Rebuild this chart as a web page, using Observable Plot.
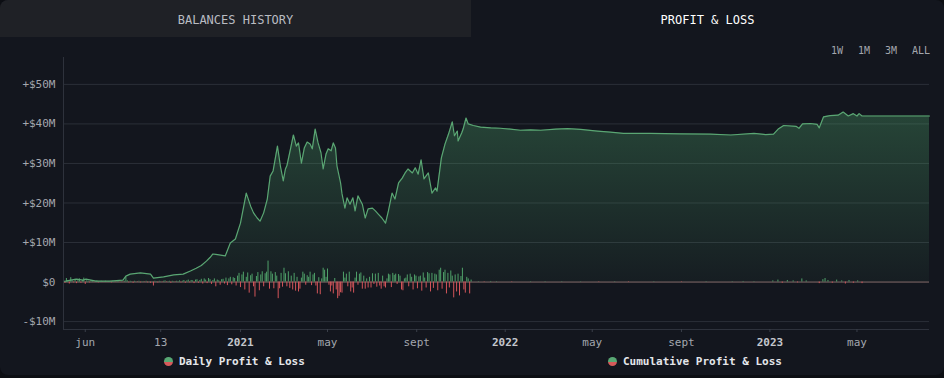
<!DOCTYPE html>
<html><head><meta charset="utf-8">
<script src="https://cdn.jsdelivr.net/npm/d3@7"></script>
<script src="https://cdn.jsdelivr.net/npm/@observablehq/plot@0.6"></script>
<style>
html,body{margin:0;padding:0;background:#0c0e13;width:944px;height:378px;overflow:hidden;font-family:"DejaVu Sans Mono",monospace;}
#card{position:absolute;left:0;top:0;width:944px;height:375px;background:#13161e;border-radius:8px;overflow:hidden;}
.tab{position:absolute;top:0;height:37px;line-height:40px;text-align:center;font-size:12px;}
#tab1{left:0;width:471px;background:#1f2126;color:#b9bcc2;}
#tab2{left:471px;width:473px;color:#ffffff;}
.btn{position:absolute;top:45px;font-size:10px;color:#a3a6ad;}
#chart{position:absolute;left:0;top:37px;}
.leg{position:absolute;top:355px;font-size:11px;font-weight:bold;color:#e4e6ea;white-space:nowrap;line-height:14px;}
.dot{display:inline-block;width:9px;height:9px;border-radius:50%;background:linear-gradient(#58a874 50%,#d65a5a 50%);margin-right:6px;vertical-align:-1px;}
</style></head><body>
<div id="card">
  <div class="tab" id="tab1">BALANCES HISTORY</div>
  <div class="tab" id="tab2">PROFIT &amp; LOSS</div>
  <div class="btn" style="left:831px">1W</div>
  <div class="btn" style="left:858px">1M</div>
  <div class="btn" style="left:885px">3M</div>
  <div class="btn" style="left:912px">ALL</div>
  <div id="chart"></div>
  <div class="leg" style="left:164px"><span class="dot"></span>Daily Profit &amp; Loss</div>
  <div class="leg" style="left:608px"><span class="dot"></span>Cumulative Profit &amp; Loss</div>
</div>
<script>
// Cumulative P&L (millions USD)
const cumDates = ["2020-05-02","2020-05-05","2020-05-12","2020-05-20","2020-05-29","2020-06-02","2020-06-16","2020-07-05","2020-07-23","2020-07-27","2020-08-02","2020-08-16","2020-08-30","2020-09-03","2020-09-17","2020-10-01","2020-10-14","2020-10-24","2020-11-01","2020-11-08","2020-11-15","2020-11-20","2020-11-24","2020-11-28","2020-12-11","2020-12-18","2020-12-25","2021-01-01","2021-01-09","2021-01-15","2021-01-19","2021-01-24","2021-01-28","2021-02-02","2021-02-07","2021-02-11","2021-02-15","2021-02-21","2021-02-25","2021-03-01","2021-03-04","2021-03-06","2021-03-11","2021-03-15","2021-03-19","2021-03-22","2021-03-26","2021-03-30","2021-04-03","2021-04-07","2021-04-10","2021-04-14","2021-04-18","2021-04-22","2021-04-25","2021-04-29","2021-05-02","2021-05-06","2021-05-09","2021-05-12","2021-05-14","2021-05-19","2021-05-21","2021-05-25","2021-05-28","2021-06-01","2021-06-05","2021-06-08","2021-06-12","2021-06-18","2021-06-22","2021-06-26","2021-07-02","2021-07-06","2021-07-10","2021-07-15","2021-07-20","2021-07-24","2021-07-29","2021-08-02","2021-08-07","2021-08-12","2021-08-16","2021-08-20","2021-08-26","2021-08-30","2021-09-03","2021-09-07","2021-09-11","2021-09-17","2021-09-22","2021-09-27","2021-09-29","2021-10-05","2021-10-10","2021-10-15","2021-10-20","2021-10-23","2021-10-27","2021-10-28","2021-11-02","2021-11-04","2021-11-08","2021-11-11","2021-11-18","2021-11-28","2021-12-12","2021-12-25","2022-01-08","2022-01-22","2022-02-05","2022-02-19","2022-03-12","2022-03-28","2022-04-15","2022-05-08","2022-05-26","2022-06-13","2022-07-20","2022-08-30","2022-10-11","2022-11-08","2022-12-10","2022-12-26","2023-01-06","2023-01-13","2023-01-20","2023-02-06","2023-02-10","2023-02-15","2023-02-26","2023-03-07","2023-03-10","2023-03-16","2023-03-25","2023-04-05","2023-04-12","2023-04-19","2023-04-26","2023-05-01","2023-05-04","2023-05-08","2023-08-09"];
const cumValues = [0.2,0.25,0.5,0.75,0.5,0.75,0.25,0.25,0.5,1.5,2.0,2.3,2.0,1.0,1.3,1.8,2.0,2.8,3.5,4.2,5.3,6.2,7.1,7.0,6.6,9.9,10.9,14.9,22.5,19.2,17.5,16.2,15.4,17.5,21,26.8,28.1,34.4,29.4,25.6,28.6,29.4,33.7,37.2,34.4,35.2,30.1,33.9,35.4,34.9,33.7,38.7,35.2,32.7,28.6,32.4,33.7,33.2,35.2,33.9,29.4,25.1,22.3,18.7,21.3,19.7,21.3,18,21.8,19.7,16.2,18.5,18.7,18,17.2,16.2,14.9,18,22.5,21,25.1,26.3,27.6,28.6,27.6,28.9,27.3,30.9,26.1,27.6,22.5,23.8,23,31.4,34.9,37.5,40.5,37,38.2,35.7,37.7,38.7,41.5,40,39.6,39.2,39.0,38.9,38.7,38.4,38.5,38.4,38.7,38.8,38.6,38.2,37.9,37.6,37.6,37.5,37.4,37.2,37.6,37.3,37.4,38.8,39.6,39.4,38.9,40.0,40.1,39.9,39.0,41.8,42.1,42.2,43.0,42.0,42.6,42.0,42.6,42.0,42.0];

// Daily P&L (millions USD), one reading every 2 days from dailyStart
const dailyStart = "2020-05-02";
const dailyStepDays = 2;
const dailyValues = [
0.6,-0.3,0.9,0.4,-0.5,1.1,0.3,-0.2,0.7,-0.4,0.5,0.8,-0.3,0.4,1.0,-0.6,0.3,0.2,-0.2,0.4,
0.2,-0.1,0.1,0.3,-0.2,0.1,0.2,-0.1,0.1,0.2,-0.1,0.1,0.1,-0.2,0.2,0.1,-0.1,0.3,0.1,-0.1,
0.1,-0.1,0.2,1.2,0.3,-0.2,0.2,0.1,-0.3,0.2,0.1,-0.1,0.2,-0.2,0.1,0.1,-0.1,0.2,-0.2,0.1,
-0.3,0.1,-1.0,0.2,0.1,-0.2,0.2,0.1,-0.1,0.2,0.3,-0.1,0.1,0.2,-0.3,0.2,0.1,-0.1,0.2,0.1,
0.3,-0.2,0.2,0.4,-0.3,0.3,0.5,-0.2,0.4,0.3,-0.4,0.5,0.6,-0.3,0.4,0.7,-0.5,0.8,0.5,-0.4,
0.9,0.6,-0.6,0.4,0.8,-1.2,0.5,0.3,-0.8,0.6,0.7,-0.5,1.0,-0.9,0.8,1.2,-0.7,1.1,0.9,-1.0,
1.5,2.2,-1.4,1.8,2.5,-2.0,1.2,2.3,-2.8,1.6,2.0,-1.2,-3.8,1.4,2.4,-2.2,1.8,2.6,-1.2,2.1,
2.5,5.3,-1.8,2.6,2.0,-1.7,2.4,1.5,-4.2,-1.7,2.2,-1.3,3.5,2.1,-1.2,2.6,-1.6,1.5,-2.0,2.2,
-2.3,1.2,-2.5,-1.8,1.0,2.5,2.0,-0.8,1.6,1.2,2.5,-0.9,1.8,2.2,-1.0,-3.0,1.1,-3.2,0.8,3.5,
3.0,1.2,3.3,-0.8,-2.5,-1.0,-3.0,0.9,-2.0,-4.2,-3.6,-2.7,-2.8,2.5,1.0,2.0,-1.2,2.5,-2.5,-1.5,
-2.8,1.0,2.5,-0.8,2.0,2.3,-1.8,1.5,-1.8,0.8,-1.5,1.2,-1.5,2.1,-0.6,2.0,-1.3,2.2,-1.0,-1.8,
1.5,-1.2,-1.5,0.8,2.0,1.8,-1.4,2.2,1.7,2.0,-0.6,1.9,1.5,-2.0,-2.2,0.8,1.0,1.8,-1.2,2.0,
1.2,-2.0,1.8,1.5,-1.7,1.3,1.5,-2.3,2.3,1.0,-1.5,2.4,2.1,-2.5,2.2,-1.6,2.0,1.8,-2.2,3.0,
3.5,-1.8,2.4,3.0,-3.0,2.2,-1.5,2.8,1.5,-4.0,1.8,-2.5,2.0,-3.5,1.4,3.5,-2.0,-2.8,1.2,0.8,-3.0,0.5
];
// Later sparse daily P&L
const lateDates = ["2021-11-25","2021-12-03","2021-12-12","2021-12-20","2022-01-10","2022-02-05","2022-02-25","2022-03-20","2022-04-15","2022-05-10","2022-06-01","2022-06-20","2022-07-25","2022-09-01","2022-10-05","2022-11-10","2022-11-25","2022-12-10","2023-01-05","2023-01-12","2023-01-18","2023-01-25","2023-02-02","2023-02-08","2023-02-14","2023-02-20","2023-03-10","2023-03-15","2023-03-18","2023-03-22","2023-03-28","2023-04-03","2023-04-10","2023-04-15","2023-04-20","2023-04-26","2023-05-02","2023-05-08"];
const lateValues = [0.1,-0.1,0.15,0.1,-0.1,0.1,0.1,0.1,0.08,-0.1,0.1,-0.1,0.1,-0.1,0.1,0.1,0.15,0.1,0.3,0.5,-0.3,0.4,0.3,-0.2,0.8,0.3,-0.4,0.6,0.9,0.4,-0.3,0.5,0.3,-0.5,0.4,-0.3,0.3,-0.4];

const yTicks = [-10,0,10,20,30,40,50];
const xTickDates = ["2020-06-01","2020-09-13","2021-01-01","2021-05-01","2021-09-01","2022-01-01","2022-05-01","2022-09-01","2023-01-01","2023-05-01"];
const xTickLabels = ["jun","13","2021","may","sept","2022","may","sept","2023","may"];
const xStart = "2020-05-02", xEnd = "2023-08-09";
const yMin = -12.0, yMax = 56.8;

const parse = d3.utcParse("%Y-%m-%d");
const cum = cumDates.map((d,i)=>({date: parse(d), value: cumValues[i]}));
const start = parse(dailyStart);
const daily = dailyValues.map((v,i)=>({date: d3.utcDay.offset(start, i*dailyStepDays), value: v}))
  .concat(lateDates.map((d,i)=>({date: parse(d), value: lateValues[i]})));
const xTicks = xTickDates.map(parse);
const labelMap = new Map(xTicks.map((d,i)=>[+d, xTickLabels[i]]));
const xDomain = [parse(xStart), parse(xEnd)];
const fmt = v => v > 0 ? `+$${v}M` : v < 0 ? `-$${-v}M` : "$0";

const defs = d3.create("svg:defs");
const lg = defs.append("linearGradient").attr("id","pnlGrad").attr("x1",0).attr("y1",0).attr("x2",0).attr("y2",1);
lg.append("stop").attr("offset","0%").attr("stop-color","#50aa6e").attr("stop-opacity",0.32);
lg.append("stop").attr("offset","100%").attr("stop-color","#50aa6e").attr("stop-opacity",0.05);

const plot = Plot.plot({
  width: 944, height: 316,
  marginLeft: 63, marginRight: 15, marginTop: 20, marginBottom: 24,
  style: {background: "transparent", fontFamily: "DejaVu Sans Mono, monospace", fontSize: "11px", color: "#a3a7ae"},
  x: {type: "utc", domain: xDomain, label: null},
  y: {domain: [yMin, yMax], label: null},
  marks: [
    () => defs.node(),
    Plot.gridY(yTicks, {stroke: "#2b2f38", strokeOpacity: 1}),
    Plot.areaY(cum, {x: "date", y: "value", fill: "url(#pnlGrad)"}),
    Plot.ruleY([0], {stroke: "#7a625f", strokeWidth: 1}),
    Plot.ruleX(daily.filter(d => d.value >= 0), {x: "date", y1: 0, y2: "value", stroke: "#4fa069", strokeWidth: 1}),
    Plot.ruleX(daily.filter(d => d.value < 0), {x: "date", y1: 0, y2: "value", stroke: "#d4555a", strokeWidth: 1}),
    Plot.lineY(cum, {x: "date", y: "value", stroke: "#5aa673", strokeWidth: 1.2}),
    Plot.ruleX([xDomain[0]], {stroke: "#2e323c"}),
    Plot.ruleY([yMin], {stroke: "#2e323c"}),
    Plot.axisY(yTicks, {tickSize: 0, tickPadding: 8, tickFormat: fmt, label: null}),
    Plot.axisX(xTicks, {tickSize: 3, tickPadding: 6, tickFormat: d => labelMap.get(+d), stroke: "#3a3f4a", label: null})
  ]
});
d3.select(plot).selectAll("text").filter(function(){ return /^\d{4}$/.test(this.textContent); })
  .attr("font-weight", "bold").attr("fill", "#c4c7cd");
document.getElementById("chart").appendChild(plot);
</script>
</body></html>
